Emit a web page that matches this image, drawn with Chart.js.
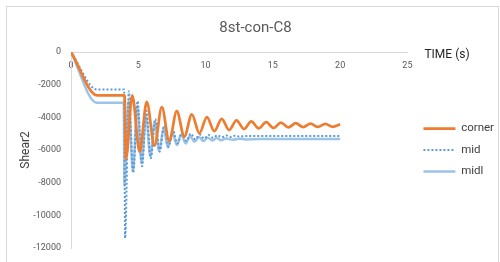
<!DOCTYPE html>
<html>
<head>
<meta charset="utf-8">
<script src="https://cdn.jsdelivr.net/npm/chart.js@4/dist/chart.umd.min.js"></script>
<style>
  html, body { margin: 0; padding: 0; background: #ffffff; }
  #wrap { position: relative; width: 500px; height: 262px; overflow: hidden; }
  #frame { position: absolute; left: 6px; top: 6px; width: 493px; height: 270px; border: 1px solid #d9d9d9; box-sizing: border-box; }
  #c { position: absolute; left: 0; top: 0; }
</style>
</head>
<body>
<div id="wrap">
  <div id="frame"></div>
  <canvas id="c" width="500" height="262"></canvas>
</div>
<script>
const chartTitle = '8st-con-C8';
const xAxisTitle = 'TIME (s)';
const yAxisTitle = 'Shear2';
const seriesNames = ['corner', 'mid', 'midl'];

const cornerT = [0, 1.95, 3.98, 4.08, 4.55, 5.1, 5.63, 6.2, 6.75, 7.3, 7.86, 8.42, 8.98, 9.54, 10.1, 10.65, 11.2, 11.75, 12.3, 12.85, 13.4, 13.95, 14.5, 15.05, 15.6, 16.15, 16.7, 17.25, 17.8, 18.35, 18.9, 19.45, 20.0];
const cornerV = [0, -2650, -2650, -6550, -2650, -6100, -3050, -5730, -3380, -5450, -3620, -5180, -3820, -4980, -3980, -4850, -4100, -4780, -4180, -4720, -4250, -4680, -4290, -4650, -4330, -4620, -4360, -4600, -4390, -4590, -4400, -4580, -4420];

const midT = [0, 1.95, 3.95, 4.02, 4.3, 4.62, 4.95, 5.28, 5.6, 5.93, 6.26, 6.59, 6.92, 7.25, 7.58, 7.91, 8.24, 8.57, 8.9, 9.23, 9.56, 9.89, 10.22, 10.55, 10.88, 11.21, 11.54, 11.87, 12.2, 12.53, 13.0, 14.0, 20.0];
const midV = [0, -2300, -2300, -11400, -2400, -7400, -3000, -7000, -3600, -6500, -4100, -6100, -4500, -5800, -4800, -5600, -4950, -5450, -5000, -5350, -5050, -5300, -5080, -5250, -5100, -5220, -5110, -5200, -5120, -5180, -5150, -5150, -5150];

const midlT = [0, 1.9, 3.92, 3.97, 4.28, 4.6, 4.92, 5.25, 5.57, 5.9, 6.22, 6.55, 6.88, 7.2, 7.53, 7.86, 8.19, 8.52, 8.85, 9.18, 9.51, 9.84, 10.17, 10.5, 10.83, 11.16, 11.5, 12.0, 12.5, 13.0, 14.0, 20.0];
const midlV = [0, -3100, -3100, -8200, -3000, -7300, -3300, -6800, -3900, -6400, -4300, -6050, -4650, -5850, -4900, -5700, -5050, -5600, -5150, -5500, -5200, -5450, -5250, -5420, -5270, -5400, -5300, -5370, -5310, -5350, -5330, -5330];

const xTickStep = 5;
const yTickStep = 2000;

function pts(ts, vs) { return ts.map((t, i) => ({ x: t, y: vs[i] })); }

const timeLabelPlugin = {
  id: 'timeLabel',
  afterDraw(chart) {
    const ctx = chart.ctx;
    const y0 = chart.scales.y.getPixelForValue(0);
    ctx.save();
    ctx.font = '12px Roboto';
    ctx.fillStyle = '#262626';
    ctx.textBaseline = 'middle';
    ctx.textAlign = 'left';
    ctx.fillText(xAxisTitle, chart.chartArea.right + 17, y0 + 3);
    ctx.restore();
  }
};

new Chart(document.getElementById('c'), {
  type: 'line',
  data: {
    datasets: [
      { label: seriesNames[0], data: pts(cornerT, cornerV), borderColor: '#ED7D31', backgroundColor: '#ED7D31', borderWidth: 2.75, pointRadius: 0, cubicInterpolationMode: 'monotone', fill: false },
      { label: seriesNames[1], data: pts(midT, midV), borderColor: '#5B9BD5', backgroundColor: '#5B9BD5', borderWidth: 2, borderDash: [2, 2], pointRadius: 0, cubicInterpolationMode: 'monotone', fill: false },
      { label: seriesNames[2], data: pts(midlT, midlV), borderColor: '#9DC3E6', backgroundColor: '#9DC3E6', borderWidth: 2.5, pointRadius: 0, cubicInterpolationMode: 'monotone', fill: false }
    ]
  },
  options: {
    responsive: false,
    animation: false,
    layout: { padding: { left: 7, right: -4, top: 0, bottom: 14 } },
    scales: {
      x: {
        type: 'linear', min: 0, max: 25,
        position: { y: 0 },
        grid: { drawOnChartArea: false, drawTicks: false },
        border: { display: true, color: '#d9d9d9', width: 1 },
        ticks: { stepSize: xTickStep, padding: 8, color: '#595959', font: { family: 'Roboto', size: 9 }, maxRotation: 0 },
        afterFit(s) { s.height = 0; }
      },
      y: {
        type: 'linear', min: -12000, max: 0, position: 'left',
        grid: { drawOnChartArea: false, drawTicks: false },
        border: { display: true, color: '#d9d9d9', width: 1 },
        ticks: { stepSize: yTickStep, padding: 10, color: '#595959', font: { family: 'Roboto', size: 9 }, callback: v => String(v) },
        title: { display: true, text: yAxisTitle, color: '#404040', font: { family: 'Roboto', size: 12 }, padding: { top: 12, bottom: 0 } },
        afterFit(s) { s.width = 64; s.paddingTop = 0; s.paddingBottom = 0; }
      },
      yR: {
        type: 'linear', position: 'right', display: true,
        grid: { display: false }, border: { display: false }, ticks: { display: false },
        afterFit(s) { s.width = 6; s.paddingTop = 0; s.paddingBottom = 0; }
      }
    },
    plugins: {
      title: { display: true, text: chartTitle, color: '#595959', font: { family: 'Roboto', size: 15, weight: 'normal' }, padding: { top: 19, bottom: 15 } },
      legend: {
        position: 'right', align: 'center', maxWidth: 140, fullSize: false,
        labels: {
          usePointStyle: true, pointStyle: 'line', pointStyleWidth: 32, padding: 10, color: '#404040', font: { family: 'Roboto', size: 11.5 },
          generateLabels(chart) {
            const items = Chart.defaults.plugins.legend.labels.generateLabels(chart);
            items.forEach((it, i) => {
              const ds = chart.data.datasets[i];
              it.lineDash = ds.borderDash || [];
              it.lineWidth = ds.borderWidth;
              it.strokeStyle = ds.borderColor;
              it.fillStyle = ds.borderColor;
              it.pointStyle = 'line';
            });
            return items;
          }
        }
      },
      tooltip: { enabled: false }
    }
  },
  plugins: [timeLabelPlugin]
});
</script>
</body>
</html>
